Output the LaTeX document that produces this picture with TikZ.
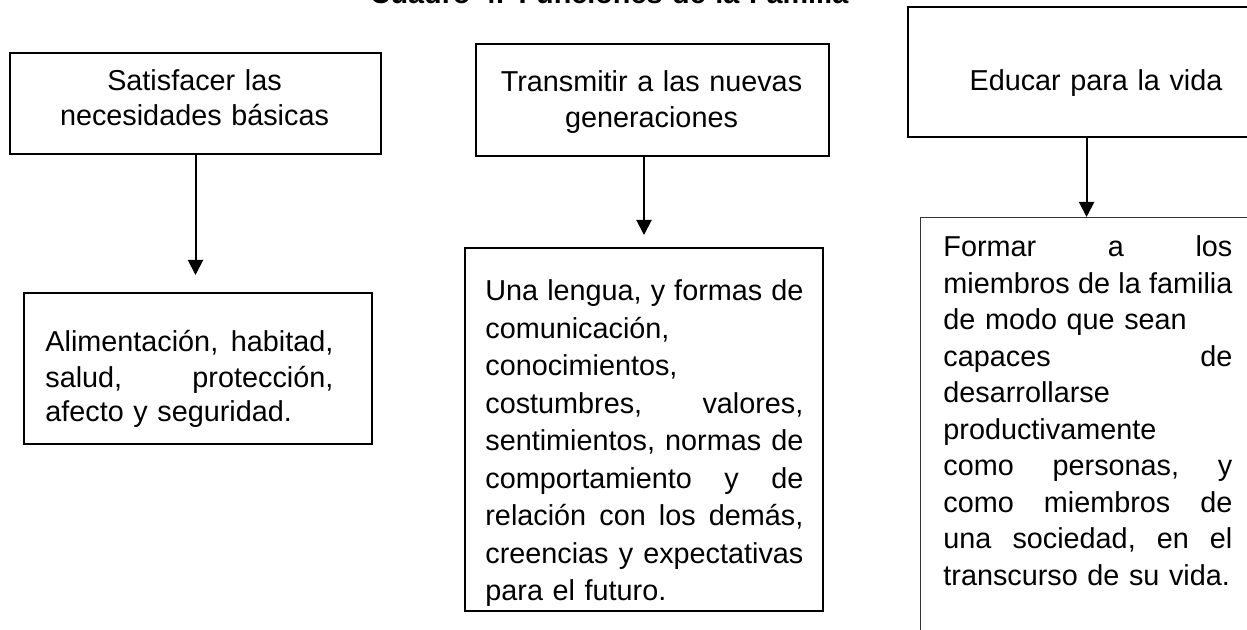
\documentclass[tikz,border=0pt]{standalone}
\usepackage{fontspec}
\setmainfont{Liberation Sans}
\usepackage{tikz}
\usetikzlibrary{arrows.meta}

\begin{document}
\begin{tikzpicture}[x=0.5pt,y=-0.5pt,
  box/.style={draw,line width=1pt,inner sep=0pt,anchor=north west},
  txt/.style={inner sep=0pt,text width=#1,align=left,anchor=base west,font=\fontsize{14.4pt}{18pt}\selectfont},
  ctr/.style={inner sep=0pt,text width=#1,align=center,anchor=base,font=\fontsize{14.4pt}{18pt}\selectfont},
  arr/.style={-{Triangle[length=7.5pt,width=7.5pt]},line width=1pt}]
\useasboundingbox (0,0) rectangle (1247,630);
\clip (0,0) rectangle (1247,630);
\node[ctr=300pt,font=\bfseries\fontsize{14.4pt}{18pt}\selectfont] (title) at (609,4) {Cuadro 4. Funciones de la Familia};
\node[box,minimum width=185.5pt,minimum height=50.5pt] (b1) at (9,52) {};
\node[box,minimum width=174pt,minimum height=75.5pt] (b2) at (23,292) {};
\node[box,minimum width=176.5pt,minimum height=56pt] (b3) at (475,43) {};
\node[box,minimum width=179pt,minimum height=181.5pt] (b4) at (464,247) {};
\node[box,minimum width=189pt,minimum height=65pt] (b5) at (907,6) {};
\node[box,line width=0.6pt,draw=black!80,minimum width=166pt,minimum height=225pt] (b6) at (920,217) {};
\node[ctr=170pt,font=\fontsize{14.4pt}{17.5pt}\selectfont] (t1) at (194.5,91) {Satisfacer las\\necesidades básicas};
\node[txt=144pt,font=\fontsize{14.4pt}{17.5pt}\selectfont] (t2) at (45,352) {Alimentación,\hfill habitad,\\
salud,\hfill protección,\\
afecto y seguridad.};
\node[ctr=170pt] (t3) at (651.5,92) {Transmitir a las nuevas\\generaciones};
\node[txt=159pt,font=\fontsize{14.4pt}{18.75pt}\selectfont] (t4) at (485,301) {Una\hfill lengua,\hfill y\hfill formas\hfill de\\
comunicación,\\
conocimientos,\\
costumbres,\hfill valores,\\
sentimientos,\hfill normas\hfill de\\
comportamiento\hfill y\hfill de\\
relación\hfill con\hfill los\hfill demás,\\
creencias\hfill y\hfill expectativas\\
para el futuro.};
\node[ctr=170pt] (t5) at (1096,91) {Educar para la vida};
\node[txt=144.5pt,font=\fontsize{14.4pt}{18.25pt}\selectfont] (t6) at (943,257) {Formar\hfill a\hfill los\\
miembros\hfill de\hfill la\hfill familia\\
\makebox[126pt][s]{de modo que sean}\\
capaces\hfill de\\
desarrollarse\\
productivamente\\
como\hfill personas,\hfill y\\
como\hfill miembros\hfill de\\
una\hfill sociedad,\hfill en\hfill el\\
transcurso de su vida.};
\draw[arr,shorten >=8.5pt] (b1.south) -- (b1.south |- b2.north);
\draw[arr,shorten >=6pt] (b3.south -| b4.north) -- (b4.north);
\draw[arr] (b5.south -| b6.north) -- (b6.north);
\end{tikzpicture}
\end{document}
